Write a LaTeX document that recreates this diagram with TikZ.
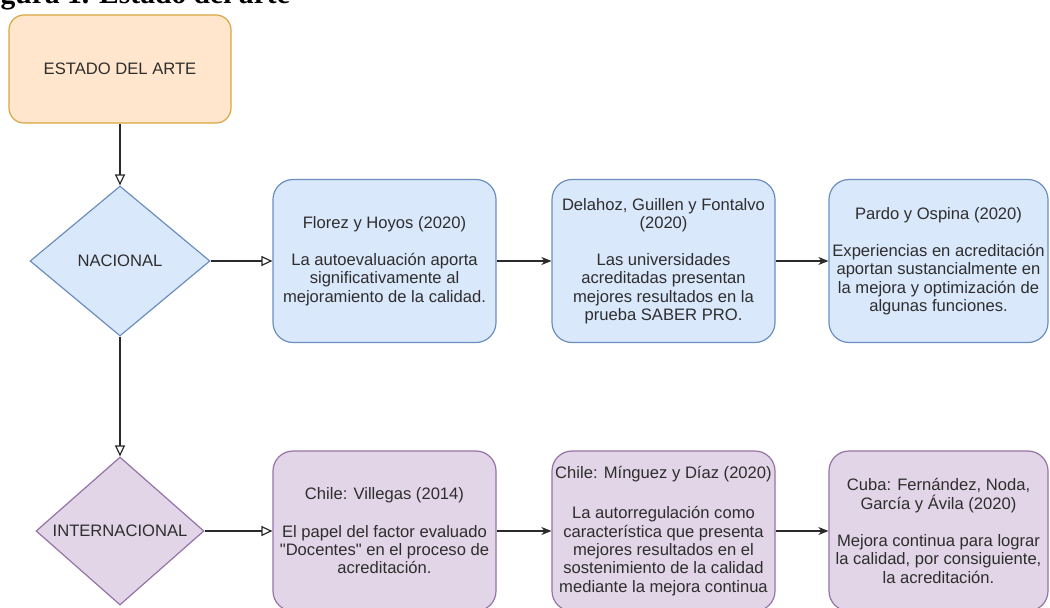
\documentclass[tikz,border=0pt]{standalone}
\usepackage{fontspec}
\setmainfont{Liberation Sans}[Ligatures=TeXOff]
\newfontfamily\capfont{Liberation Serif}
\usetikzlibrary{arrows.meta,shapes.geometric}

\definecolor{orangefill}{HTML}{FFE6CC}
\definecolor{orangeline}{HTML}{D9A640}
\definecolor{bluefill}{HTML}{DAE8FC}
\definecolor{blueline}{HTML}{6C8EBF}
\definecolor{purplefill}{HTML}{E1D5E7}
\definecolor{purpleline}{HTML}{9673A6}
\definecolor{textgray}{HTML}{2E2E2E}
\definecolor{linegray}{HTML}{2A2A2A}

\tikzset{
  txt/.style={font=\fontsize{16.6}{18.3}\selectfont, text=textgray, align=center},
  card/.style={txt, rounded corners=20pt, minimum width=223pt, minimum height=163pt,
               inner sep=0pt, line width=1.2pt},
  bluecard/.style={card, fill=bluefill, draw=blueline},
  purplecard/.style={card, fill=purplefill, draw=purpleline},
  decision/.style={txt, shape=diamond, inner sep=0pt, line width=1.2pt},
  link/.style={draw=linegray, line width=1.2pt},
  openhead/.style={link, -{Triangle[open, length=11pt, width=10pt]}},
  solidhead/.style={link, -{Stealth[length=10pt, width=8pt, inset=3pt]}}
}

\begin{document}
\begin{tikzpicture}[x=1pt, y=-1pt]
  \useasboundingbox (0,0) rectangle (1050,608);
  \fill[white] (0,0) rectangle (1050,608);
  \clip (0,0) rectangle (1050,608);

  % caption line above the chart, mostly beyond the top edge
  \node[anchor=base west, inner sep=0pt,
        font=\capfont\bfseries\fontsize{29.6}{30}\selectfont] (cap) at (-26,3)
        {Figura 1. Estado del arte};

  % root
  \node[txt, draw=orangeline, fill=orangefill, rounded corners=15pt,
        minimum width=222pt, minimum height=108pt, inner sep=0pt, line width=1.2pt]
        (root) at (120,69) {ESTADO DEL ARTE};

  % decisions
  \node[decision, fill=bluefill, draw=blueline,
        minimum width=180pt, minimum height=150pt, aspect=1.2] (nac) at (120,261) {NACIONAL};
  \node[decision, fill=purplefill, draw=purpleline,
        minimum width=168pt, minimum height=148pt, aspect=1.14] (int) at (120,531) {INTERNACIONAL};

  % national studies
  \node[bluecard] (florez) at (384.5,261)
    {Florez y Hoyos (2020)\\[19pt]La autoevaluación aporta\\significativamente al\\mejoramiento de la calidad.};
  \node[bluecard] (delahoz) at (663.5,261)
    {Delahoz, Guillen y Fontalvo\\(2020)\\[19pt]Las universidades\\acreditadas presentan\\mejores resultados en la\\prueba SABER PRO.};
  \node[bluecard, minimum width=219pt] (pardo) at (938.5,261)
    {Pardo y Ospina (2020)\\[19pt]Experiencias en acreditación\\aportan sustancialmente en\\la mejora y optimización de\\algunas funciones.};

  % international studies
  \node[purplecard, minimum height=160pt] (villegas) at (384.5,531)
    {Chile: Villegas (2014)\\[19pt]El papel del factor evaluado\\"Docentes" en el proceso de\\acreditación.};
  \node[purplecard, minimum height=160pt] (minguez) at (663.5,531)
    {Chile: Mínguez y Díaz (2020)\\[22pt]La autorregulación como\\característica que presenta\\mejores resultados en el\\sostenimiento de la calidad\\mediante la mejora continua};
  \node[purplecard, minimum height=160pt, minimum width=219pt] (cuba) at (938.5,531)
    {Cuba: Fernández, Noda,\\García y Ávila (2020)\\[19pt]Mejora continua para lograr\\la calidad, por consiguiente,\\la acreditación.};

  % connectors
  \draw[openhead] (root.south) -- (nac.north);
  \draw[openhead] (nac.south) -- (int.north);
  \draw[openhead] (nac.east) -- (florez.west);
  \draw[solidhead] (florez.east) -- (delahoz.west);
  \draw[solidhead] (delahoz.east) -- (pardo.west);
  \draw[openhead] (int.east) -- (villegas.west);
  \draw[solidhead] (villegas.east) -- (minguez.west);
  \draw[solidhead] (minguez.east) -- (cuba.west);
\end{tikzpicture}
\end{document}
